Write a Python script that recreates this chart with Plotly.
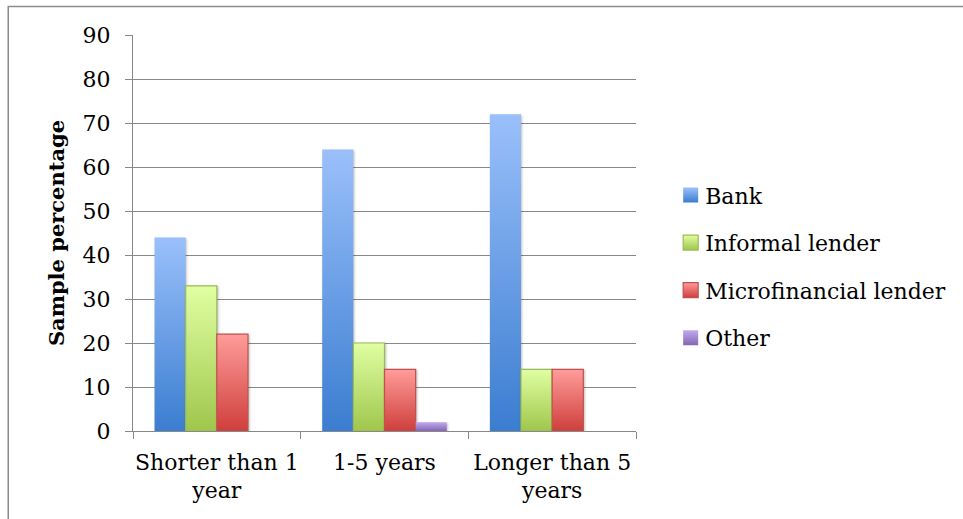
import plotly.graph_objects as go

# Loan term categories and share of respondents by lender type (%)
categories = ["Shorter than 1<br>year", "1-5 years", "Longer than 5<br>years"]
bank = [44, 64, 72]
informal = [33, 20, 14]
microfinancial = [22, 14, 14]
other = [0, 2, 0]

series = [
    ("Bank", bank, "#6a9be6", "rgba(0,0,0,0)"),
    ("Informal lender", informal, "#c2e27e", "#9bbb59"),
    ("Microfinancial lender", microfinancial, "#e87370", "#c0504d"),
    ("Other", other, "#a08bd0", "rgba(0,0,0,0)"),
]

# vertical gradients (top colour, bottom colour) applied to each series in the browser
gradients = [
    ("#9ac0fb", "#3b7dd0"),
    ("#e0ffa2", "#a0c64c"),
    ("#ff9c9a", "#ce3f3c"),
    ("#c0aaf0", "#8566b0"),
]

FONT = "DejaVu Serif"
GRID = "#888888"

fig = go.Figure()
for i, (name, vals, col, line) in enumerate(series):
    fig.add_trace(go.Bar(
        name=name, x=categories, y=vals,
        marker=dict(color=col, line=dict(color=line, width=1.2)),
        legendgroup=f"g{i}",
    ))

fig.update_layout(
    width=963, height=519,
    margin=dict(l=133, r=322, t=35, b=88),
    barmode="group", bargap=0.257, bargroupgap=0,
    plot_bgcolor="white", paper_bgcolor="white",
    font=dict(family=FONT, size=22, color="black"),
    showlegend=True,
    legend=dict(
        x=1.058, xanchor="left", y=0.415, yanchor="middle",
        font=dict(family=FONT, size=22, color="black"),
        traceorder="grouped", tracegroupgap=16,
        bgcolor="rgba(0,0,0,0)",
    ),
    xaxis=dict(
        type="category", tickson="boundaries", ticks="outside", ticklen=7,
        tickcolor=GRID, tickwidth=1.3, showline=True, linecolor=GRID, linewidth=1.3,
        showgrid=False, tickfont=dict(family=FONT, size=22), tickangle=0,
        ticklabelstandoff=11, automargin=False,
    ),
    yaxis=dict(
        range=[0, 90], dtick=10, ticks="outside", ticklen=7, tickcolor=GRID, tickwidth=1.3,
        showline=True, linecolor=GRID, linewidth=1.3,
        showgrid=True, gridcolor=GRID, gridwidth=1.3, zeroline=False,
        tickfont=dict(family=FONT, size=22), ticklabelstandoff=10, automargin=False,
        title=dict(text="<b>Sample percentage</b>", font=dict(family=FONT, size=21), standoff=12),
    ),
    shapes=[dict(
        type="rect", xref="paper", yref="paper",
        x0=(7 - 133) / 508, x1=1.7, y0=-0.5, y1=(431 - 6.5) / 396,
        line=dict(color="#8c8c8c", width=1.5), fillcolor="rgba(0,0,0,0)", layer="below",
    )],
)

grad_js = "[" + ",".join(f"['{a}','{b}']" for a, b in gradients) + "]"
post = """
var gd = document.getElementById('{plot_id}');
var grads = %s;
function applyGrad() {
  var svg = gd.querySelector('svg.main-svg');
  if (!svg) return;
  var ns = 'http://www.w3.org/2000/svg';
  var defs = svg.querySelector('defs');
  grads.forEach(function (g, i) {
    var id = 'bargrad' + i;
    if (document.getElementById(id)) return;
    var lg = document.createElementNS(ns, 'linearGradient');
    lg.setAttribute('id', id);
    lg.setAttribute('x1', '0'); lg.setAttribute('y1', '0');
    lg.setAttribute('x2', '0'); lg.setAttribute('y2', '1');
    [[0, g[0]], [1, g[1]]].forEach(function (s) {
      var st = document.createElementNS(ns, 'stop');
      st.setAttribute('offset', s[0]);
      st.setAttribute('stop-color', s[1]);
      lg.appendChild(st);
    });
    defs.appendChild(lg);
  });
  gd.querySelectorAll('.barlayer .trace').forEach(function (tr, i) {
    tr.querySelectorAll('path').forEach(function (p) {
      p.style.fill = 'url(#bargrad' + i + ')';
      p.style.filter = 'drop-shadow(1px 1px 1px rgba(0,0,0,0.25))';
    });
  });
  gd.querySelectorAll('.legend .traces').forEach(function (tr, i) {
    tr.querySelectorAll('.legendpoints path').forEach(function (p) {
      p.setAttribute('d', 'M13,7.5H-2V-7.5H13Z');
      p.style.fill = 'url(#bargrad' + i + ')';
    });
  });
}
applyGrad();
gd.on('plotly_afterplot', applyGrad);
""" % grad_js

fig.write_html("out.html", post_script=post, config={"displayModeBar": False})
